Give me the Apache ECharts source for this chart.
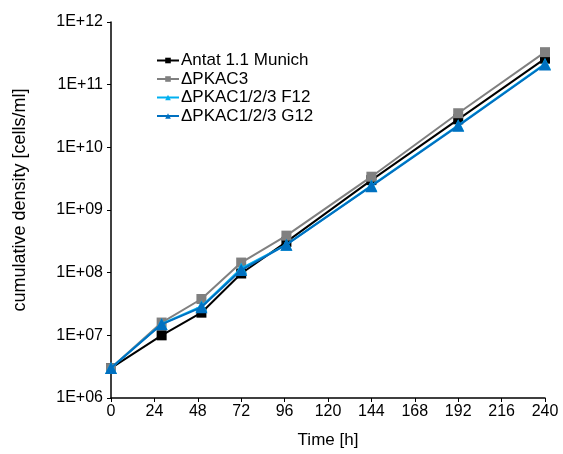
<!DOCTYPE html>
<html>
<head>
<meta charset="utf-8">
<script src="https://cdn.jsdelivr.net/npm/echarts@6/dist/echarts.min.js"></script>
<style>html,body{margin:0;padding:0;background:#fff}#c{width:563px;height:454px}</style>
</head>
<body>
<div id="c"></div>
<script>
var times = [0, 28, 50, 72, 97, 144, 192, 240];
var antat = [3.0e6, 1.0e7, 2.3e7, 9.7e7, 3.1e8, 3.0e9, 2.8e10, 2.6e11];
var pkac3 = [3.0e6, 1.6e7, 3.8e7, 1.45e8, 3.9e8, 3.4e9, 3.5e10, 3.3e11];
var f12 = [3.0e6, 1.52e7, 2.9e7, 1.17e8, 2.8e8, 2.45e9, 2.25e10, 2.15e11];
var g12 = [3.0e6, 1.5e7, 2.8e7, 1.1e8, 2.8e8, 2.4e9, 2.2e10, 2.1e11];
var names = ['Antat 1.1 Munich', '\u0394PKAC3', '\u0394PKAC1/2/3 F12', '\u0394PKAC1/2/3 G12'];
var colors = ['#000000', '#808080', '#00B0F0', '#0070C0'];
var symbols = ['rect', 'rect', 'triangle', 'triangle'];
var xTicks = [0, 240, 24];
var yRange = [1e6, 1e12];

function pairs(vals) { return times.map(function (t, i) { return [t, vals[i]]; }); }
var all = [antat, pkac3, f12, g12];
var FONT = 'Liberation Sans, Arial, sans-serif';

var chart = echarts.init(document.getElementById('c'), null, {renderer: 'canvas'});
chart.setOption({
  animation: false,
  backgroundColor: '#fff',
  textStyle: {fontFamily: FONT, color: '#000'},
  grid: {left: 111, right: 18, top: 22, bottom: 52, containLabel: false},
  legend: {
    left: 151, top: 47, orient: 'vertical',
    itemWidth: 22, itemHeight: 7, itemGap: 1.5,
    textStyle: {fontFamily: FONT, fontSize: 17, color: '#000', padding: [0, 0, 0, -3]},
    data: names
  },
  xAxis: {
    type: 'value', min: xTicks[0], max: xTicks[1], interval: xTicks[2],
    name: 'Time [h]', nameLocation: 'middle', nameGap: 34,
    nameTextStyle: {fontFamily: FONT, fontSize: 17, color: '#000'},
    axisLine: {lineStyle: {color: '#000', width: 1.5}},
    axisTick: {show: true, length: 4, lineStyle: {color: '#000'}},
    axisLabel: {fontFamily: FONT, fontSize: 16, color: '#000', margin: 6},
    splitLine: {show: false}
  },
  yAxis: {
    type: 'log', logBase: 10, min: yRange[0], max: yRange[1],
    name: 'cumulative density [cells/ml]', nameLocation: 'middle', nameGap: 82,
    nameTextStyle: {fontFamily: FONT, fontSize: 18, color: '#000', padding: [0, 0, 0, 20]},
    axisLine: {show: true, lineStyle: {color: '#000', width: 1.5}},
    axisTick: {show: true, length: 4, lineStyle: {color: '#000'}},
    axisLabel: {fontFamily: FONT, fontSize: 16, color: '#000', margin: 8,
      formatter: function (v) { var e = Math.round(Math.log10(v)); return '1E+' + (e < 10 ? '0' + e : e); }},
    splitLine: {show: false}
  },
  series: all.map(function (vals, i) {
    return {
      name: names[i], type: 'line', data: pairs(vals),
      symbol: symbols[i], symbolSize: symbols[i] === 'rect' ? 10 : 12,
      lineStyle: {color: colors[i], width: 2},
      itemStyle: {color: colors[i]},
      z: 2 + i
    };
  })
});
</script>
</body>
</html>
